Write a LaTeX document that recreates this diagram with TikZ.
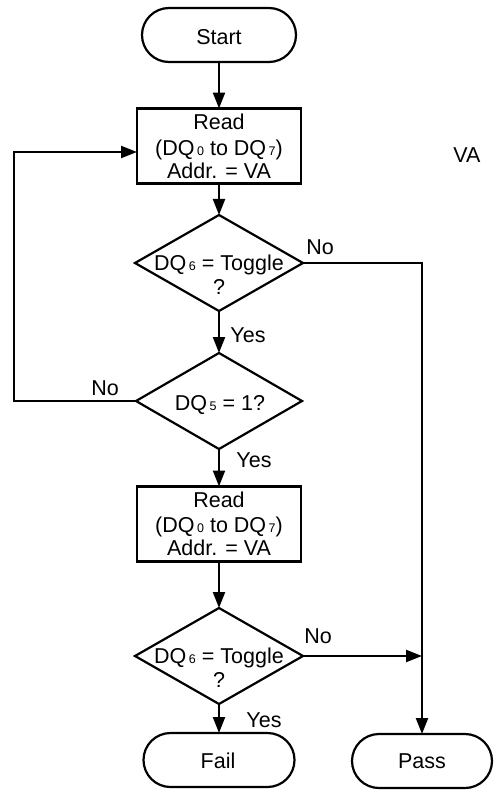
\documentclass[tikz,border=0pt]{standalone}
\usepackage{fontspec}
\setmainfont{Liberation Sans}
\usetikzlibrary{arrows.meta,shapes.geometric,shapes.misc}
\newcommand{\dqs}[1]{\hspace{2.5pt}{\fontsize{12.5}{12.5}\selectfont #1}}
\begin{document}
\begin{tikzpicture}[x=1pt,y=-1pt,
  font=\fontsize{21.5}{24}\selectfont,
  line width=2.2pt,
  arr/.style={-{Triangle[length=16pt,width=12pt]}},
  pill/.style={draw, rounded rectangle, minimum height=54pt, inner sep=0pt, outer sep=0pt},
  box/.style={draw, rectangle, minimum width=164pt, minimum height=75pt, inner sep=0pt, outer sep=0pt},
  dia/.style={draw, diamond, minimum width=168pt, minimum height=96pt, inner sep=0pt, outer sep=0pt},
  txt/.style={anchor=base, inner sep=0pt}]
\useasboundingbox (0,0) rectangle (494,792);
\fill[white] (0,0) rectangle (494,792);

% shapes
\node[pill, minimum width=154pt] (start) at (219,35) {};
\node[box] (read1) at (219,146) {};
\node[dia] (d1) at (219,263) {};
\node[dia, minimum width=166pt] (d2) at (219,401) {};
\node[box] (read2) at (219,524) {};
\node[dia] (d3) at (219,656) {};
\node[pill, minimum width=151pt] (fail) at (219,760) {};
\node[pill, minimum width=140pt] (pass) at (422,761) {};

% texts
\node[txt] (tstart) at (219,45) {Start};
\node[txt] (r1a) at (219,129) {Read};
\node[txt] (r1b) at (219,155) {(DQ\dqs{0} to DQ\dqs{7})};
\node[txt] (r1c) at (219,178) {Addr. = VA};
\node[txt] (d1a) at (219,270) {DQ\dqs{6} = Toggle};
\node[txt] (d1b) at (219,294) {?};
\node[txt] (d2a) at (220,410) {DQ\dqs{5} = 1?};
\node[txt] (r2a) at (219,507) {Read};
\node[txt] (r2b) at (219,532) {(DQ\dqs{0} to DQ\dqs{7})};
\node[txt] (r2c) at (219,555) {Addr. = VA};
\node[txt] (d3a) at (219,663) {DQ\dqs{6} = Toggle};
\node[txt] (d3b) at (219,687) {?};
\node[txt] (tfail) at (218,768) {Fail};
\node[txt] (tpass) at (422,768) {Pass};

% labels
\node[txt] (l1) at (320,254) {No};
\node[txt] (l2) at (248,342) {Yes};
\node[txt] (l3) at (105,395) {No};
\node[txt] (l4) at (254,467) {Yes};
\node[txt] (l5) at (318,643) {No};
\node[txt] (l6) at (264,727) {Yes};
\node[txt] (va) at (467,162) {VA};

% connectors
\draw[arr] (start) -- (read1);
\draw[arr] (read1) -- (d1);
\draw[arr] (d1) -- (d2);
\draw[arr] (d2) -- (read2);
\draw[arr] (read2) -- (d3);
\draw[arr] (d3) -- (fail);
\draw[arr] (d1.east) -| (pass.north);
\draw[arr] (d3.east) -- (d3.east -| pass.north);
\coordinate (loopB) at (14,401);
\coordinate (loopT) at (14,152);
\draw[arr] (d2.west) -- (loopB) -- (loopT) -- (loopT -| read1.west);
\end{tikzpicture}
\end{document}
